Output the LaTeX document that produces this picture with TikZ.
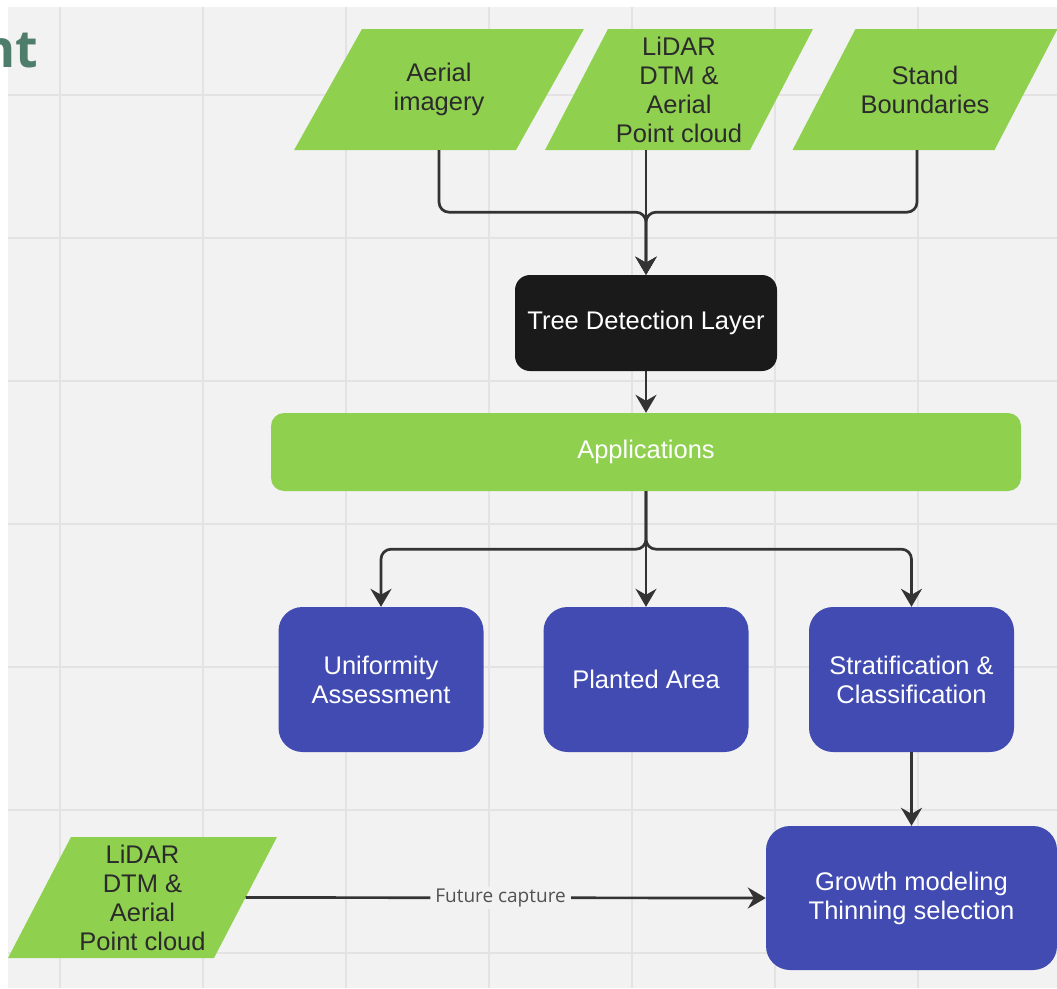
\documentclass[tikz,border=0pt]{standalone}
\usepackage{xcolor}
\usepackage{fontspec}
\setmainfont{Liberation Sans}
\newfontfamily\opensans{Open Sans}
\usepackage{tikz}
\usetikzlibrary{
    arrows.meta,
    shapes.geometric
}

\definecolor{paper}{HTML}{F2F2F2}
\definecolor{gridc}{HTML}{E3E3E3}
\definecolor{leaf}{HTML}{8FD14F}
\definecolor{indigo}{HTML}{414BB2}
\definecolor{night}{HTML}{1A1A1A}
\definecolor{wire}{HTML}{333333}
\definecolor{ink}{HTML}{2B2B2B}
\definecolor{moss}{HTML}{4E7D6B}

\newcommand{\slab}[2]{\parbox[c][121pt][c]{#1}{\centering #2}}

\tikzset{
    txt/.style={font=\fontsize{25.5}{29}\selectfont, align=center},
    para/.style={txt, trapezium, inner sep=0pt,
        trapezium left angle=62.5, trapezium right angle=117.5,
        fill=leaf, text=ink},
    task/.style={txt, rectangle, rounded corners=24pt, fill=indigo, text=white,
        minimum width=205pt, minimum height=145pt},
    link/.style={draw=wire, line width=2.7pt, rounded corners=10pt,
        -{Stealth[length=18pt,width=21pt,inset=6pt]}},
    capt/.style={fill=paper, text=wire!85, inner xsep=5pt, inner ysep=2pt,
        font=\opensans\fontsize{19}{22}\selectfont}
}

\begin{document}
\begin{tikzpicture}[x=1pt,y=-1pt]
        \useasboundingbox (0,0) rectangle (1057,988);
        \fill[white] (0,0) rectangle (1057,988);
        \fill[paper] (8,7) rectangle (1057,988);
        \foreach \k in {0,...,6} {
            \draw[gridc, line width=1.8pt] ({60+143*\k},7) -- ({60+143*\k},988);
            \draw[gridc, line width=1.8pt] (8,{95+143*\k}) -- (1057,{95+143*\k});
        }

        \node[anchor=base east, inner sep=0pt, text=moss,
            font=\opensans\bfseries\fontsize{52}{60}\selectfont] (ttl) at (38,67) {nt};

        \draw (439,89.5) node[para, trapezium left angle=60.7,
            trapezium right angle=119.3](aerial){\slab{154pt}{Aerial\\imagery}};
        \draw (679,89.5) node[para](lidar){\slab{142pt}{LiDAR\\DTM \&\\Aerial\\Point cloud}};
        \draw (925,89.5) node[para](stand){\slab{139pt}{Stand\\Boundaries}};

        \draw (646,323) node[txt, rounded corners=15pt, fill=night, text=white,
            minimum width=262pt, minimum height=96pt](tree){Tree Detection Layer};
        \draw (646,452) node[txt, rounded corners=13pt, fill=leaf, text=white,
            minimum width=750pt, minimum height=78pt](apps){Applications};

        \draw (381,679.5) node[task](unif){Uniformity\\Assessment};
        \draw (646,679.5) node[task](plant){Planted Area};
        \draw (911.5,679.5) node[task](strat){Stratification \&\\Classification};
        \draw (911.5,898) node[task, minimum width=291pt, minimum height=144pt](growth){Growth modeling\\Thinning selection};

        \draw (142.5,897.5) node[para](future){\slab{143pt}{LiDAR\\DTM \&\\Aerial\\Point cloud}};

        \draw[link] (aerial.south) -- ++(0,62) -| (tree.north);
        \draw[link] ([xshift=-8pt]stand.south) -- ++(0,62) -| (tree.north);
        \draw[link] (lidar.south -| tree.north) -- (tree.north);

        \draw[link] (tree.south) -- (apps.north);

        \draw[link] (apps.south) -- ++(0,58) -| (unif.north);
        \draw[link] (apps.south) -- ++(0,58) -| (strat.north);
        \draw[link] (apps.south) -- (plant.north);

        \draw[link] (strat.south) -- (growth.north);
        \draw[link] (future.east) to node[capt, pos=0.49]{Future capture} (growth.west);
    \end{tikzpicture}
\end{document}
